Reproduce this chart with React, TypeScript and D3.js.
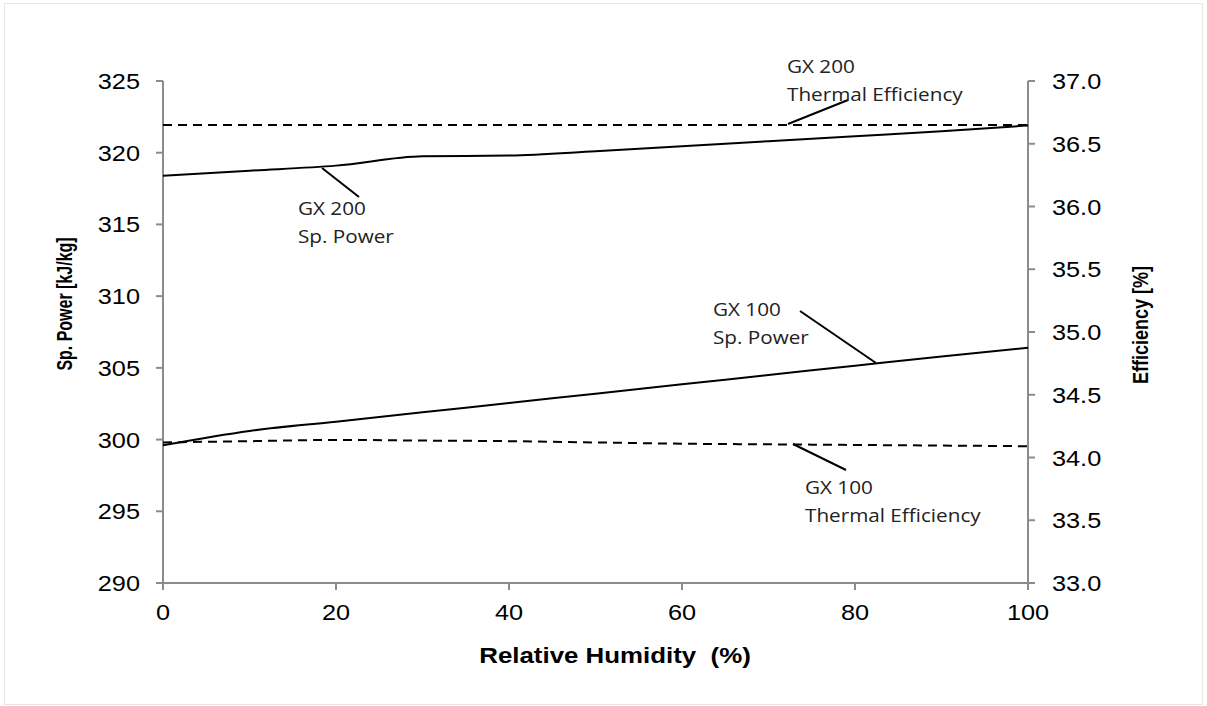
import React from "react";
import * as d3 from "d3";

const humidity = [0, 10, 20, 30, 40, 50, 60, 70, 80, 90, 100];
const gx200Power = [318.4, 318.75, 319.1, 319.75, 319.8, 320.1, 320.45, 320.8, 321.15, 321.5, 321.9];
const gx100Power = [299.6, 300.6, 301.25, 301.9, 302.55, 303.2, 303.85, 304.5, 305.15, 305.8, 306.4];
const gx200Eff = [36.65, 36.65, 36.65, 36.65, 36.65, 36.65, 36.65, 36.65, 36.65, 36.65, 36.65];
const gx100Eff = [34.12, 34.13, 34.14, 34.135, 34.13, 34.12, 34.11, 34.105, 34.1, 34.095, 34.09];
const xTicks = [0, 20, 40, 60, 80, 100];
const leftTicks = [290, 295, 300, 305, 310, 315, 320, 325];
const rightTicks = [33.0, 33.5, 34.0, 34.5, 35.0, 35.5, 36.0, 36.5, 37.0];

const W = 1207;
const H = 706;
const L = 163, R = 1028, T = 81, B = 583;
const SX = 1.15;

export default function App() {
  const x = d3.scaleLinear().domain([0, 100]).range([L, R]);
  const yL = d3.scaleLinear().domain([290, 325]).range([B, T]);
  const yR = d3.scaleLinear().domain([33, 37]).range([B, T]);

  const lineL = (vals: number[]) =>
    d3.line<number>().x((_, i) => x(humidity[i])).y((v) => yL(v)).curve(d3.curveMonotoneX)(vals) || "";
  const lineR = (vals: number[]) =>
    d3.line<number>().x((_, i) => x(humidity[i])).y((v) => yR(v)).curve(d3.curveMonotoneX)(vals) || "";

  const axisColor = "#8c8c8c";
  const tickFont = "'Liberation Sans', Arial, sans-serif";
  const annFont = "'Open Sans', 'Noto Sans', sans-serif";
  const tf = (px: number, py: number) => `translate(${px},${py}) scale(${SX},1)`;

  const Ann = ({ px, py, lines }: { px: number; py: number; lines: string[] }) => (
    <g transform={tf(px, py)}>
      <text fontFamily={annFont} fontSize={18} fill="#222">
        {lines.map((s, i) => (
          <tspan key={i} x={0} y={i * 28}>
            {s}
          </tspan>
        ))}
      </text>
    </g>
  );

  return (
    <svg width={W} height={H} style={{ position: "absolute", left: 0, top: 0 }}>
      <rect x={0} y={0} width={W} height={H} fill="#fff" />
      <rect x={4.5} y={3.5} width={1198} height={701} fill="none" stroke="#e6e6e6" strokeWidth={1} />

      {/* axes */}
      <line x1={L} x2={L} y1={T} y2={B} stroke={axisColor} strokeWidth={2} />
      <line x1={R} x2={R} y1={T} y2={B} stroke={axisColor} strokeWidth={2} />
      <line x1={L} x2={R} y1={B} y2={B} stroke={axisColor} strokeWidth={2} />

      {leftTicks.map((t) => (
        <g key={"l" + t}>
          <line x1={L - 7} x2={L} y1={yL(t)} y2={yL(t)} stroke={axisColor} strokeWidth={2} />
          <text transform={tf(140, yL(t) + 8)} textAnchor="end" fontFamily={tickFont} fontSize={22} fill="#000">
            {t}
          </text>
        </g>
      ))}
      {rightTicks.map((t) => (
        <g key={"r" + t}>
          <line x1={R} x2={R + 7} y1={yR(t)} y2={yR(t)} stroke={axisColor} strokeWidth={2} />
          <text transform={tf(1052, yR(t) + 8)} textAnchor="start" fontFamily={tickFont} fontSize={22} fill="#000">
            {t.toFixed(1)}
          </text>
        </g>
      ))}
      {xTicks.map((t) => (
        <g key={"x" + t}>
          <line x1={x(t)} x2={x(t)} y1={B} y2={B + 7} stroke={axisColor} strokeWidth={2} />
          <text transform={tf(x(t), 620)} textAnchor="middle" fontFamily={tickFont} fontSize={22} fill="#000">
            {t}
          </text>
        </g>
      ))}

      {/* axis titles */}
      <text
        transform={tf(615, 663)}
        textAnchor="middle"
        fontFamily={tickFont}
        fontWeight="bold"
        fontSize={22.5}
        fill="#000"
        style={{ whiteSpace: "pre" }}
      >
        {"Relative Humidity  (%)"}
      </text>
      <text
        transform={`translate(72,304) scale(1.1,0.8) rotate(-90)`}
        textAnchor="middle"
        fontFamily={tickFont}
        fontWeight="bold"
        fontSize={20}
        fill="#000"
      >
        Sp. Power [kJ/kg]
      </text>
      <text
        transform={`translate(1148,325) scale(1.1,0.9) rotate(-90)`}
        textAnchor="middle"
        fontFamily={tickFont}
        fontWeight="bold"
        fontSize={20}
        fill="#000"
      >
        Efficiency [%]
      </text>

      {/* series */}
      <path d={lineR(gx200Eff)} fill="none" stroke="#000" strokeWidth={2} strokeDasharray="9,6" />
      <path d={lineR(gx100Eff)} fill="none" stroke="#000" strokeWidth={2} strokeDasharray="9,6" />
      <path d={lineL(gx200Power)} fill="none" stroke="#000" strokeWidth={2} />
      <path d={lineL(gx100Power)} fill="none" stroke="#000" strokeWidth={2} />

      {/* annotations */}
      <line x1={788} y1={124} x2={848} y2={100} stroke="#000" strokeWidth={2} />
      <Ann px={787} py={73} lines={["GX 200", "Thermal Efficiency"]} />

      <line x1={322} y1={168} x2={359} y2={197} stroke="#000" strokeWidth={2} />
      <Ann px={298} py={215} lines={["GX 200", "Sp. Power"]} />

      <line x1={800} y1={311} x2={876} y2={363} stroke="#000" strokeWidth={2} />
      <Ann px={713} py={316} lines={["GX 100", "Sp. Power"]} />

      <line x1={793} y1={444} x2={846} y2={470} stroke="#000" strokeWidth={2} />
      <Ann px={805} py={494} lines={["GX 100", "Thermal Efficiency"]} />
    </svg>
  );
}
